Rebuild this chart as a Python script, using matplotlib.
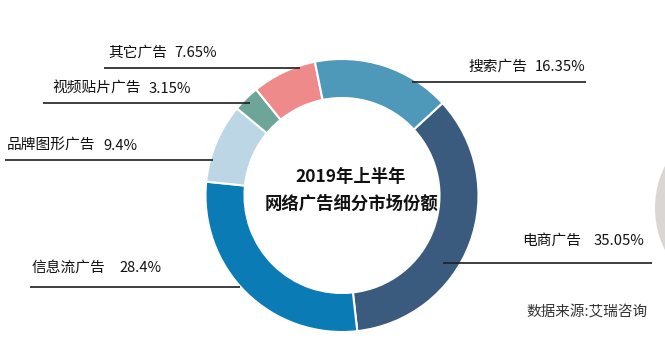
import matplotlib
matplotlib.use("Agg")
import matplotlib.pyplot as plt
from matplotlib.patches import Ellipse

plt.rcParams['font.family'] = ['Noto Sans CJK SC', 'DejaVu Sans']

# ---- data ----
categories = ["电商广告", "信息流广告", "品牌图形广告", "视频贴片广告", "其它广告", "搜索广告"]
shares = [35.05, 28.4, 9.4, 3.15, 7.65, 16.35]
colors = ["#3B5B7E", "#0A7BB5", "#BDD6E6", "#6DA699", "#EE8A8A", "#4E98BA"]
title_lines = ["2019年上半年", "网络广告细分市场份额"]
source_text = "数据来源:艾瑞咨询"

# ---- layout (image pixel coords, y downward) ----
W, H = 665, 345
cx, cy, R, r_in = 342, 195.5, 136.5, 97.5
# per category: name left x, percent right x, text center y, line x0, line x1, line y
label_layout = {
    "电商广告":   (522, 644, 241, 443, 652, 263),
    "信息流广告": (32, 162, 268, 30, 240, 287),
    "品牌图形广告": (7, 138, 146, 5, 213, 160),
    "视频贴片广告": (52, 191, 89, 43, 250, 103),
    "其它广告":   (108, 217, 53, 104, 300, 68),
    "搜索广告":   (468, 585, 67, 412, 586, 82),
}

fig = plt.figure(figsize=(W / 100, H / 100), dpi=100)
ax = fig.add_axes([0, 0, 1, 1])

def Y(y):
    return H - y

# decorative grey shape at right edge
ax.add_patch(Ellipse((722, Y(208)), 134, 160, facecolor="#DAD6D4", edgecolor="none", zorder=0))

ax.pie(shares, colors=colors, startangle=42.6, counterclock=False,
       center=(cx, Y(cy)), radius=R,
       wedgeprops=dict(width=R - r_in, edgecolor="white", linewidth=1.5))

for cat, val in zip(categories, shares):
    nx, px, ty, lx0, lx1, ly = label_layout[cat]
    ax.plot([lx0, lx1], [Y(ly), Y(ly)], color="#1e1e1e", lw=1.2, zorder=5,
            solid_capstyle="butt")
    ax.text(nx, Y(ty), cat, ha="left", va="center", fontsize=10.6, color="#111111")
    ax.text(px, Y(ty), f"{val}%", ha="right", va="center", fontsize=10.6, color="#111111")

ax.text(351, Y(177), title_lines[0], ha="center", va="center", fontsize=12.5,
        fontweight="bold", color="#111111")
ax.text(352, Y(204), title_lines[1], ha="center", va="center", fontsize=12.5,
        fontweight="bold", color="#111111")

ax.text(648, Y(312), source_text, ha="right", va="center", fontsize=10.5, color="#333333")

ax.set_xlim(0, W)
ax.set_ylim(0, H)
ax.set_aspect("auto")
ax.axis("off")

fig.savefig("out.png", dpi=100, facecolor="white")
